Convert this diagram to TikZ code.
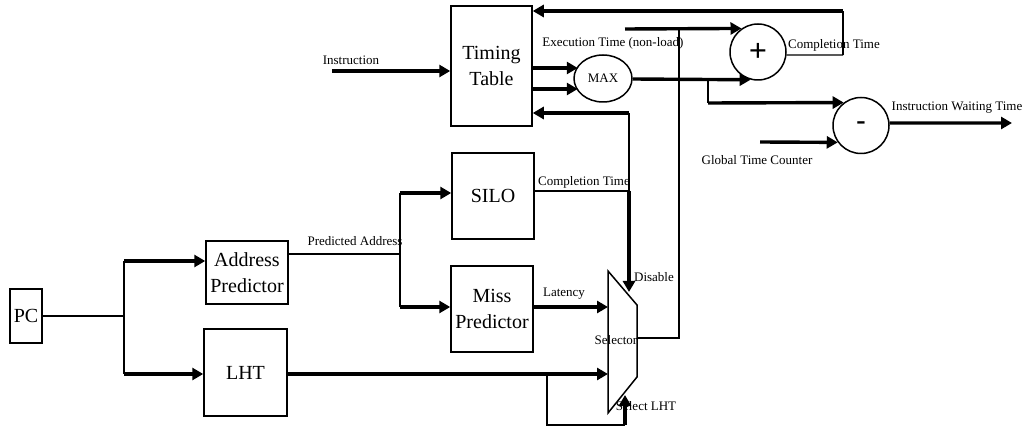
\documentclass[tikz,border=0pt]{standalone}
\usepackage{fontspec}
\setmainfont{Liberation Serif}
\usetikzlibrary{arrows.meta,shapes.geometric}

\tikzset{
  blk/.style={draw, line width=1.5pt, rectangle, align=center, inner sep=0pt,
              font=\fontsize{20}{26}\selectfont},
  op/.style={draw, line width=1.5pt, circle, minimum size=56pt, inner sep=0pt},
  lbl/.style={font=\fontsize{13}{15}\selectfont, inner sep=0pt},
  wire/.style={line width=1.3pt},
  midwire/.style={line width=2pt},
  arr/.style={line width=3.4pt, -{Triangle[length=11pt,width=12pt]}},
}

\begin{document}
\begin{tikzpicture}[x=1pt, y=-1pt]
\useasboundingbox (0,0) rectangle (1031,430);

% blocks
\node[blk, minimum width=32pt, minimum height=54pt] (pc) at (26,316) {PC};
\node[blk, minimum width=82pt, minimum height=63pt] (ap) at (247,272.5) {Address\\Predictor};
\node[blk, minimum width=83pt, minimum height=87pt] (lht) at (245.5,372.5) {LHT};
\node[blk, minimum width=82pt, minimum height=86pt] (silo) at (493,196) {SILO};
\node[blk, minimum width=82pt, minimum height=86pt] (mp) at (492,309) {Miss\\Predictor};
\node[blk, minimum width=81pt, minimum height=120pt] (tt) at (491.5,66) {Timing\\Table};
\node[draw, line width=1.5pt, ellipse, minimum width=58pt, minimum height=47pt, inner sep=0pt,
      font=\fontsize{13}{15}\selectfont] (max) at (603,78.5) {MAX};
\node[op, font=\fontsize{32}{32}\selectfont\bfseries] (plus) at (758,52) {+};
\node[op, font=\fontsize{28}{28}\selectfont\bfseries] (minus) at (861,125.5) {-};

% selector (trapezoid)
\coordinate (sl1) at (608,271);
\coordinate (sr1) at (637,305);
\coordinate (sr2) at (637,377);
\coordinate (sl2) at (608,413);
\draw[line width=1.5pt] (sl1) -- (sr1) -- (sr2) -- (sl2) -- cycle;

% junction points
\coordinate (fa) at (124,261);
\coordinate (fb) at (124,374);
\coordinate (fpc) at (124,316);
\coordinate (pa) at (400,254);
\coordinate (sa) at (400,193);
\coordinate (sb) at (400,307);
\coordinate (ct) at (629,191);
\coordinate (tb) at (629,113);
\coordinate (dis) at (629,292);
\coordinate (lat) at (608,307);
\coordinate (lin) at (608,374);
\coordinate (lbr) at (547,374);
\coordinate (lsel) at (625,425);
\coordinate (lsel2) at (625,395);
\coordinate (sout) at (637,338);
\coordinate (sup1) at (679,29);
\coordinate (stub) at (625,29);
\coordinate (mbr) at (708,79);
\coordinate (mbr2) at (708,103);
\coordinate (gtc) at (760,142);
\coordinate (iwt) at (1012,123);
\coordinate (ins) at (332,71);
\coordinate (fk1) at (843,55);
\coordinate (fk2) at (843,11);

% PC fan-out
\draw[wire] (pc.east) -- (fpc);
\draw[midwire] (fa) -- (fb);
\draw[arr] (fa) -- (fa -| ap.west);
\draw[arr] (fb) -- (fb -| lht.west);

% predicted address fan-out
\draw[wire] (pa -| ap.east) -- (pa);
\draw[midwire] (sa) -- (sb);
\draw[arr] (sa) -- (sa -| silo.west);
\draw[arr] (sb) -- (sb -| mp.west);

% SILO completion time
\draw[wire] (ct -| silo.east) -- (ct);
\draw[midwire] (tb) -- (ct);
\draw[arr] (ct) -- (dis);
\draw[arr] (tb) -- (tb -| tt.east);

% latency and LHT into selector
\draw[arr] (lat -| mp.east) -- (lat);
\draw[arr] (lin -| lht.east) -- (lin);
\draw[wire] (lbr) |- (lsel);
\draw[arr] (lsel) -- (lsel2);

% selector output
\draw[wire] (sout) -| (sup1);
\draw[arr] (stub) -- (plus.125);

% timing table to MAX
\draw[arr] ([yshift=-2pt]tt.east) -- ++(45,0);
\draw[arr] ([yshift=-23pt]tt.east) -- ++(45,0);
\draw[arr] (max.east |- mbr) -- (plus.255);
\draw[wire] (mbr) -- (mbr2);
\draw[arr] (mbr2) -- (minus.127);
\draw[arr] (gtc) -- (minus.216);
\draw[arr] (minus.5) -- (iwt);

% completion time feedback
\draw[wire] (plus.-6) -- (fk1);
\draw[midwire] (fk1) -- (fk2);
\draw[arr] (fk2) -- (fk2 -| tt.east);

% instruction input
\draw[arr] (ins) -- (ins -| tt.west);

% labels
\node[lbl] (linstr) at (351,60) {Instruction};
\node[lbl] (lexec) at (613,43) {Execution Time (non-load)};
\node[lbl] (lcomp1) at (834,45) {Completion Time};
\node[lbl] (liwt) at (957,108) {Instruction Waiting Time};
\node[lbl] (lgtc) at (757,160) {Global Time Counter};
\node[lbl] (lpa) at (355,241) {Predicted Address};
\node[lbl] (lcomp2) at (584,182) {Completion Time};
\node[lbl] (llat) at (564,294) {Latency};
\node[lbl] (ldis) at (654,277) {Disable};
\node[lbl] (lsel) at (616,340) {Selector};
\node[lbl] (llht) at (646,406) {Select LHT};
\end{tikzpicture}
\end{document}
